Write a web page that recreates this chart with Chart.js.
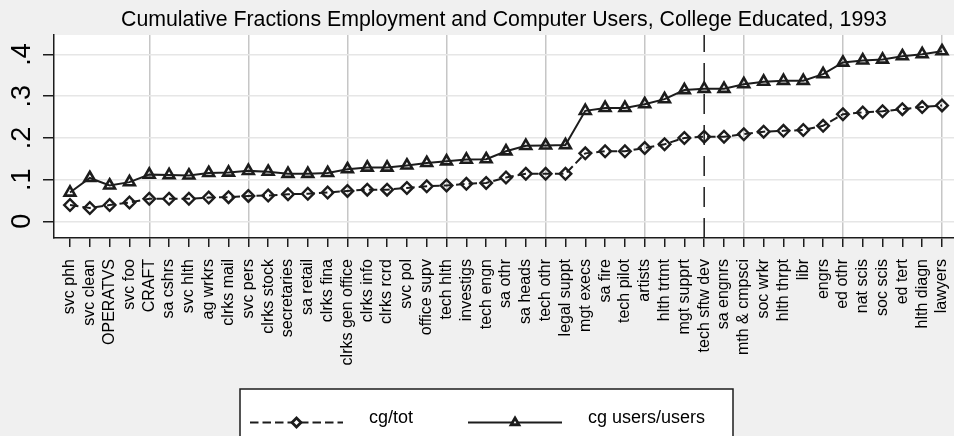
<!DOCTYPE html>
<html>
<head>
<meta charset="utf-8">
<title>Cumulative Fractions Employment and Computer Users, College Educated, 1993</title>
<script src="https://cdn.jsdelivr.net/npm/chart.js@4/dist/chart.umd.min.js"></script>
<style>
  html, body { margin: 0; padding: 0; background: #f0f0f0; }
  #wrap { width: 954px; height: 436px; }
</style>
</head>
<body>
<div id="wrap"><canvas id="chart" width="954" height="436"></canvas></div>
<script>
// Occupations, ordered by the cumulative share of college educated workers
const occupations = [
  'svc phh', 'svc clean', 'OPERATVS', 'svc foo', 'CRAFT',
  'sa cshrs', 'svc hlth', 'ag wrkrs', 'clrks mail', 'svc pers',
  'clrks stock', 'secretaries', 'sa retail', 'clrks fina', 'clrks gen office',
  'clrks info', 'clrks rcrd', 'svc pol', 'office supv', 'tech hlth',
  'investigs', 'tech engn', 'sa othr', 'sa heads', 'tech othr',
  'legal suppt', 'mgt execs', 'sa fire', 'tech pilot', 'artists',
  'hlth trtmt', 'mgt supprt', 'tech sftw dev', 'sa engnrs', 'mth & cmpsci',
  'soc wrkr', 'hlth thrpt', 'libr', 'engrs', 'ed othr',
  'nat scis', 'soc scis', 'ed tert', 'hlth diagn', 'lawyers'
];

// cg/tot: college educated share of total employment (cumulative)
const cgTot = [
  0.039, 0.032, 0.039, 0.045, 0.054,
  0.054, 0.054, 0.057, 0.058, 0.061,
  0.062, 0.065, 0.066, 0.069, 0.073,
  0.076, 0.076, 0.080, 0.084, 0.086,
  0.090, 0.092, 0.105, 0.114, 0.114,
  0.114, 0.163, 0.168, 0.168, 0.176,
  0.185, 0.200, 0.203, 0.203, 0.209,
  0.215, 0.217, 0.219, 0.229, 0.257,
  0.261, 0.264, 0.269, 0.274, 0.278
];

// cg users/users: college educated share of computer users (cumulative)
const cgUsersUsers = [
  0.069, 0.104, 0.086, 0.094, 0.112,
  0.111, 0.110, 0.116, 0.117, 0.121,
  0.119, 0.114, 0.114, 0.116, 0.125,
  0.129, 0.129, 0.134, 0.140, 0.144,
  0.148, 0.149, 0.168, 0.181, 0.182,
  0.183, 0.265, 0.272, 0.272, 0.281,
  0.293, 0.315, 0.318, 0.318, 0.329,
  0.335, 0.337, 0.337, 0.353, 0.381,
  0.386, 0.388, 0.396, 0.401, 0.408
];

const yTickValues = [0, 0.1, 0.2, 0.3, 0.4];
const yTickLabels = ['0', '.1', '.2', '.3', '.4'];
const seriesLabels = ['cg/tot', 'cg users/users'];
const markedOccupation = 'tech sftw dev';

const FONT = "'Liberation Sans', Arial, Helvetica, sans-serif";
const INK = '#1c1c1c';

// Grey page, white plot region
const backdrop = {
  id: 'backdrop',
  beforeDraw(chart) {
    const { ctx, chartArea: a } = chart;
    ctx.save();
    ctx.fillStyle = '#f0f0f0';
    ctx.fillRect(0, 0, chart.width, chart.height);
    ctx.fillStyle = '#ffffff';
    ctx.fillRect(a.left, a.top, a.right - a.left, a.bottom - a.top);
    ctx.restore();
  }
};

// Centre the title over the plot region
const titleOverPlot = {
  id: 'titleOverPlot',
  afterLayout(chart) {
    const t = chart.titleBlock;
    if (t) {
      t.left = chart.chartArea.left;
      t.right = chart.chartArea.right;
    }
  }
};

// Dashed reference line at the marked occupation
const markerLine = {
  id: 'markerLine',
  beforeDatasetsDraw(chart) {
    const { ctx, chartArea: a, scales } = chart;
    const x = scales.x.getPixelForValue(occupations.indexOf(markedOccupation) + 1);
    ctx.save();
    ctx.strokeStyle = INK;
    ctx.lineWidth = 1.5;
    ctx.setLineDash([20, 11]);
    ctx.beginPath();
    ctx.moveTo(x, a.bottom);
    ctx.lineTo(x, a.top);
    ctx.stroke();
    ctx.restore();
  }
};

// Boxed key below the axis labels
const keyBox = {
  id: 'keyBox',
  afterDraw(chart) {
    const { ctx } = chart;
    const box = { x: 240, y: 389, w: 493, h: 60 };
    const rowY = 422.5;
    const items = [
      { x0: 250, x1: 343, text: 369 },
      { x0: 468, x1: 562, text: 588 }
    ];
    ctx.save();
    ctx.fillStyle = '#ffffff';
    ctx.fillRect(box.x, box.y, box.w, box.h);
    ctx.strokeStyle = INK;
    ctx.lineWidth = 1.5;
    ctx.strokeRect(box.x, box.y, box.w, box.h);
    chart.data.datasets.forEach((ds, i) => {
      const it = items[i];
      ctx.strokeStyle = ds.borderColor;
      ctx.lineWidth = ds.borderWidth;
      ctx.setLineDash(ds.borderDash || []);
      ctx.beginPath();
      ctx.moveTo(it.x0, rowY);
      ctx.lineTo(it.x1, rowY);
      ctx.stroke();
      ctx.setLineDash([]);
      ctx.fillStyle = '#ffffff';
      ctx.strokeStyle = ds.pointBorderColor;
      ctx.lineWidth = 2.8;
      Chart.helpers.drawPoint(ctx, {
        pointStyle: ds.pointStyle, radius: 4.5, borderWidth: 2.8, rotation: 0
      }, (it.x0 + it.x1) / 2, rowY);
      ctx.fillStyle = '#000000';
      ctx.font = '18px ' + FONT;
      ctx.textBaseline = 'alphabetic';
      ctx.textAlign = 'left';
      ctx.fillText(ds.label, it.text, rowY);
    });
    ctx.restore();
  }
};

const toPoints = values => values.map((v, i) => ({ x: i + 1, y: v }));

new Chart(document.getElementById('chart'), {
  type: 'line',
  data: {
    datasets: [
      {
        label: seriesLabels[0],
        data: toPoints(cgTot),
        borderColor: INK,
        borderWidth: 2,
        borderDash: [8.5, 4],
        pointStyle: 'rectRot',
        pointRadius: 5.8,
        pointBorderWidth: 2.4,
        pointBorderColor: INK,
        pointBackgroundColor: 'rgba(0,0,0,0)',
        tension: 0,
        clip: false
      },
      {
        label: seriesLabels[1],
        data: toPoints(cgUsersUsers),
        borderColor: INK,
        borderWidth: 2,
        pointStyle: 'triangle',
        pointRadius: 6.2,
        pointBorderWidth: 2.6,
        pointBorderColor: INK,
        pointBackgroundColor: 'rgba(0,0,0,0)',
        tension: 0,
        clip: false
      }
    ]
  },
  options: {
    responsive: false,
    animation: false,
    devicePixelRatio: 1,
    layout: { autoPadding: false, padding: { left: 0, right: 0, top: 0, bottom: 62 } },
    plugins: {
      legend: { display: false },
      tooltip: { enabled: false },
      title: {
        display: true,
        fullSize: false,
        text: 'Cumulative Fractions Employment and Computer Users, College Educated, 1993',
        color: '#000000',
        font: { family: FONT, size: 21.3, weight: 'normal' },
        padding: { top: 7, bottom: 2.4 }
      }
    },
    scales: {
      x: {
        type: 'linear',
        min: 0.193,
        max: 45.605,
        afterBuildTicks: s => { s.ticks = occupations.map((_, i) => ({ value: i + 1 })); },
        afterFit: s => { s.height = 136; s.paddingLeft = 0; s.paddingRight = 0; },
        ticks: {
          autoSkip: false,
          minRotation: 90,
          maxRotation: 90,
          padding: 12,
          color: '#000000',
          font: { family: FONT, size: 16 },
          callback: v => occupations[v - 1]
        },
        grid: {
          color: c => (c.tick && c.tick.value % 5 === 0) ? '#c6c6c6' : 'rgba(0,0,0,0)',
          lineWidth: 1.5,
          tickLength: 9,
          tickColor: INK,
          tickWidth: 1.5
        },
        border: { color: INK, width: 1.5 }
      },
      y: {
        type: 'linear',
        min: -0.04,
        max: 0.447,
        afterBuildTicks: s => { s.ticks = yTickValues.map(v => ({ value: v })); },
        afterFit: s => { s.width = 54; s.paddingTop = 0; s.paddingBottom = 0; },
        ticks: {
          minRotation: 90,
          maxRotation: 90,
          crossAlign: 'center',
          padding: 9,
          color: '#000000',
          font: { family: FONT, size: 27 },
          callback: (v, i) => yTickLabels[i]
        },
        grid: {
          color: '#e6e6e6',
          lineWidth: 1.5,
          tickLength: 11,
          tickColor: INK,
          tickWidth: 1.5
        },
        border: { color: INK, width: 1.5 }
      }
    }
  },
  plugins: [backdrop, titleOverPlot, markerLine, keyBox]
});
</script>
</body>
</html>
